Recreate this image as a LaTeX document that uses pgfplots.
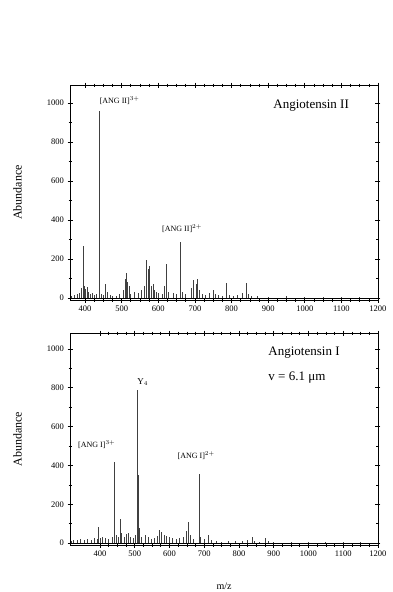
\documentclass[border=0pt]{standalone}
\usepackage{pgfplots}
\pgfplotsset{compat=1.18}
\usepackage{fontspec}
\setmainfont{Liberation Serif}
\pgfplotstableread{
mz ab
362 10
370 15
378 20
385 25
391 50
395 265
398 60
402 45
406 55
410 30
415 20
420 25
425 15
430 20
439 960
445 20
450 15
457 70
462 30
468 15
475 10
485 10
495 20
505 40
509 100
512 130
515 80
520 60
525 20
535 30
545 25
555 40
562 60
568 195
572 150
577 165
582 60
586 70
590 40
595 30
600 25
610 20
618 60
623 175
628 30
640 25
650 20
660 285
665 30
675 20
690 50
697 95
703 70
708 100
712 40
720 20
730 15
740 25
750 40
755 20
765 15
775 10
787 75
795 15
805 10
815 15
830 25
840 75
845 20
855 10
870 8
900 5
950 8
1000 6
1050 5
1100 5
1150 4
}\tabtop
\pgfplotstableread{
mz ab
318 10
325 15
335 18
345 20
355 15
365 20
375 18
385 25
392 20
397 85
402 25
408 30
415 25
425 20
435 30
443 415
448 40
453 30
459 125
463 50
470 30
476 45
482 50
488 30
495 25
502 40
507 790
509 610
511 350
514 80
520 30
530 40
540 30
548 20
558 25
565 35
572 65
578 55
585 40
592 35
600 30
610 25
620 20
630 25
640 30
648 60
655 110
660 40
668 20
686 355
690 30
700 20
712 40
720 15
735 10
750 8
770 10
790 12
810 10
825 15
838 30
845 10
860 8
876 25
885 10
900 6
950 5
1000 6
1050 5
1100 5
1150 5
}\tabbot
\pgfplotsset{
  spec/.style={
    width=308pt, scale only axis,
    xmax=1200,
    xtick={400,500,...,1200},
    ytick={0,200,...,1000},
    minor x tick num=3, minor y tick num=1,
    tick align=center,
    major tick length=5pt, minor tick length=3pt,
    tick style={black, line width=0.6pt},
    axis line style={line width=0.9pt},
    tick label style={font=\fontsize{8.5}{9}\selectfont},
    /pgf/number format/assume math mode=true,
    /pgf/number format/1000 sep={},
    ylabel={Abundance},
    ylabel style={font=\fontsize{12}{13}\selectfont, at={(axis description cs:-0.145,0.5)}},
    clip=true,
  }
}
\begin{document}
\begin{tikzpicture}[x=1pt,y=-1pt]
\useasboundingbox (0,0) rectangle (392,592);
\begin{axis}[spec, at={(70pt,-300pt)}, anchor=south west, height=215pt,
  xmin=359, ymin=-10, ymax=1092]
\addplot[black!75, line width=0.8pt, ycomb] table[x=mz,y=ab] {\tabtop};
\addplot[black, line width=1pt] coordinates {(359,0) (1200,0)};
\node[anchor=west, font=\fontsize{13}{14}\selectfont] at (rel axis cs:0.649,0.902) {Angiotensin II};
\node[anchor=south west, inner sep=1pt, font=\fontsize{8}{9}\selectfont] at (axis cs:437,985) {[ANG II]$^{3+}$};
\node[anchor=south, inner sep=1pt, font=\fontsize{8}{9}\selectfont] at (axis cs:665,330) {[ANG II]$^{2+}$};
\end{axis}
\begin{axis}[spec, at={(70pt,-545pt)}, anchor=south west, height=212pt,
  xmin=314, ymin=-10, ymax=1082]
\addplot[black!75, line width=0.8pt, ycomb] table[x=mz,y=ab] {\tabbot};
\addplot[black, line width=1pt] coordinates {(314,0) (1200,0)};
\node[anchor=west, font=\fontsize{13}{14}\selectfont] at (rel axis cs:0.633,0.906) {Angiotensin I};
\node[anchor=west, font=\fontsize{13}{14}\selectfont] at (rel axis cs:0.633,0.792) {v = 6.1 μm};
\node[anchor=south, inner sep=1pt, font=\fontsize{8}{9}\selectfont] at (axis cs:391,480) {[ANG I]$^{3+}$};
\node[anchor=south, inner sep=1pt, font=\fontsize{8}{9}\selectfont] at (axis cs:677,425) {[ANG I]$^{2+}$};
\node[anchor=south, inner sep=1pt, font=\fontsize{9}{10}\selectfont] at (axis cs:523,805) {Y$_4$};
\end{axis}
\node[font=\fontsize{10}{11}\selectfont] at (224,586) {m/z};
\end{tikzpicture}
\end{document}
